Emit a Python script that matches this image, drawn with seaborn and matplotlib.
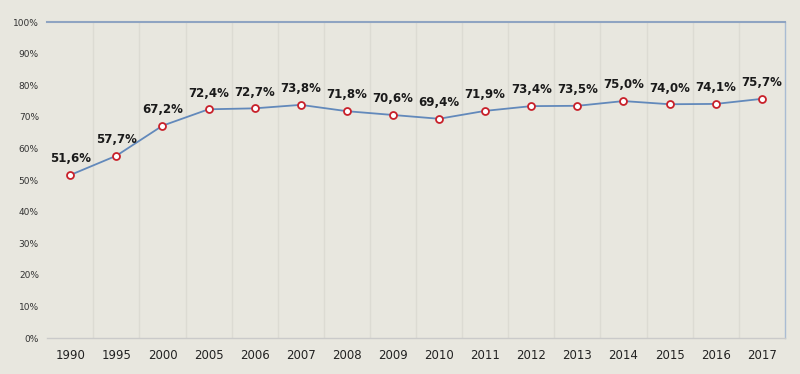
import numpy as np
import pandas as pd
import matplotlib
matplotlib.use('Agg')
import matplotlib.pyplot as plt
import seaborn as sns
from matplotlib.ticker import MultipleLocator, FixedLocator

years = ['1990', '1995', '2000', '2005', '2006', '2007', '2008', '2009',
         '2010', '2011', '2012', '2013', '2014', '2015', '2016', '2017']
values = [51.6, 57.7, 67.2, 72.4, 72.7, 73.8, 71.8, 70.6,
          69.4, 71.9, 73.4, 73.5, 75.0, 74.0, 74.1, 75.7]

bg = '#e8e7df'
sns.set_theme(style='white')
plt.rcParams['font.family'] = ['DejaVu Sans']

df = pd.DataFrame({'year': years, 'value': values})

fig = plt.figure(figsize=(8, 3.74), dpi=100, facecolor=bg)
ax = fig.add_axes([0.059, 0.096, 0.922, 0.845])
ax.set_facecolor(bg)

sns.lineplot(data=df, x='year', y='value', ax=ax, color='#6289bb', linewidth=1.3,
             marker='o', markersize=5, markerfacecolor='white',
             markeredgecolor='#c8202a', markeredgewidth=1.3, sort=False)

for i, v in enumerate(values):
    ax.annotate(f'{v:.1f}%'.replace('.', ','), (i, v), xytext=(0, 7),
                textcoords='offset points', ha='center', va='bottom',
                fontsize=8.5, fontweight='bold', color='#1a1a1a')

ax.set_xlim(-0.5, len(years) - 0.5)
ax.set_ylim(0, 100)
ax.yaxis.set_major_locator(MultipleLocator(10))
ax.set_yticklabels([f'{int(t)}%' for t in ax.get_yticks()])
ax.xaxis.set_minor_locator(FixedLocator(np.arange(0.5, len(years) - 1, 1)))
ax.grid(which='major', axis='both', visible=False)
ax.grid(which='minor', axis='x', visible=True, color='#dcdbd3', linewidth=1)

ax.tick_params(axis='y', labelsize=6.5, colors='#333333', length=0, pad=6)
ax.tick_params(axis='x', labelsize=8.5, colors='#222222', length=0, pad=8)
ax.tick_params(which='minor', length=0)
ax.set_xlabel('')
ax.set_ylabel('')

ax.spines['top'].set_color('#8fa4c2')
ax.spines['top'].set_linewidth(1.5)
ax.spines['right'].set_color('#a9bcd3')
ax.spines['right'].set_linewidth(1)
ax.spines['left'].set_visible(False)
ax.spines['bottom'].set_color('#cacaca')
ax.spines['bottom'].set_linewidth(1)

fig.savefig('out.png', dpi=100, facecolor=bg)
